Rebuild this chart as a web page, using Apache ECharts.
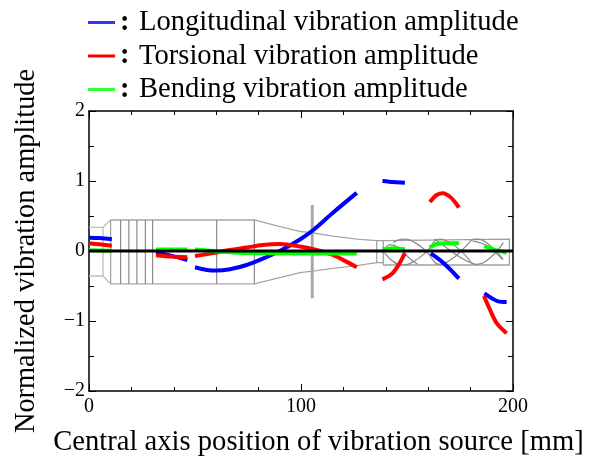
<!DOCTYPE html>
<html><head><meta charset="utf-8">
<style>html,body{margin:0;padding:0;background:#fff}#c{width:595px;height:459px}</style>
<script src="https://cdn.jsdelivr.net/npm/echarts@6/dist/echarts.min.js"></script>
</head><body><div id="c"></div>
<script>
const xTicks = [0, 100, 200];
const yTicks = [-2, -1, 0, 1, 2];
const longitudinal = [
  [[0,0.19],[5,0.185],[10.8,0.167]],
  [[31.6,-0.02],[39,-0.07],[46.4,-0.13]],
  [[50,-0.233],[55.5,-0.27],[60.2,-0.28],[66.5,-0.26],[74.4,-0.2],[82,-0.11],[90,0],[99.5,0.165],[105.8,0.3],[115.2,0.55],[126.3,0.83]],
  [[138.4,1.0],[143.6,0.985],[149,0.975]],
  [[161.2,-0.033],[165.6,-0.13],[170.3,-0.26],[174.5,-0.395]],
  [[186.5,-0.605],[190,-0.675],[193,-0.72],[197,-0.73]]
];
const torsional = [
  [[0,0.11],[5,0.095],[10.8,0.076]],
  [[31.6,-0.06],[39,-0.08],[46.4,-0.09]],
  [[50,-0.07],[58.6,-0.03],[66.5,0.014],[74.4,0.05],[82,0.086],[90,0.1],[99.5,0.065],[107.4,0.014],[115,-0.057],[120,-0.13],[126.3,-0.233]],
  [[138.4,-0.405],[142.8,-0.33],[146,-0.2],[149,-0.03]],
  [[160.8,0.7],[164,0.8],[167,0.825],[170.3,0.775],[172.6,0.7],[174.5,0.62]],
  [[186.3,-0.643],[189.2,-0.843],[192.3,-1.03],[197,-1.176]]
];
const bending = [
  [[0,0.01],[10.8,0.005]],
  [[31.6,0.02],[46.4,0.02]],
  [[50,0.02],[63,-0.01],[74,-0.03],[99.5,-0.034],[126.3,-0.034]],
  [[138.4,0.024],[143.6,0.04],[149,0.024]],
  [[160.8,0.05],[164,0.1],[168.7,0.11],[174.5,0.11]],
  [[186.5,0.07],[190.8,0.024],[197,-0.024]]
];
const zeroLine = [[0,0],[200,0]];
const tailOutline = [[[0,0.338],[6.6,0.338],[10.2,0.443]],[[0,-0.357],[6.6,-0.357],[10.2,-0.47]],[[6.6,0.338],[6.6,-0.357]]];
const bodyOutline = [[[10.2,0.443],[78,0.443],[90,0.347],[99.5,0.28],[107.4,0.25],[115,0.214],[126.3,0.171],[135.7,0.147],[135.7,-0.167],[126.3,-0.21],[115,-0.247],[107.4,-0.28],[99.5,-0.31],[78,-0.47],[10.2,-0.47],[10.2,0.443]]];
const bodyRings = [[[14.9,0.443],[14.9,-0.47]],[[18.8,0.443],[18.8,-0.47]],[[22.6,0.443],[22.6,-0.47]],[[26.6,0.443],[26.6,-0.47]],[[30,0.443],[30,-0.47]],[[60.2,0.443],[60.2,-0.47]],[[78,0.443],[78,-0.47]]];
const flange = [[[105.3,0.657],[105.3,-0.676]]];
const drillOutline = [[[135.7,0.147],[138.8,0.147],[138.8,0.171],[198.3,0.171],[198.3,-0.2],[138.8,-0.2],[138.8,-0.167],[135.7,-0.167]],[[138.8,0.147],[138.8,-0.167]]];
const helix = [
  [[143.5,0.12],[148.2,0.171],[153.7,0.12],[159.2,-0.01],[165.5,-0.19],[171.8,-0.1],[176.5,0.03],[182.8,0.171],[189.1,0.08],[195.4,-0.12]],
  [[143.5,-0.15],[148.2,-0.2],[153.7,-0.14],[159.2,-0.01],[165.5,0.171],[171.8,0.09],[176.5,-0.03],[182.8,-0.19],[189.1,-0.1],[195.4,0.12]],
  [[139.5,0],[142,0.09],[146,0.05],[151,-0.1],[155,-0.19]],
  [[139.5,-0.03],[143,-0.14],[146,-0.2]],
  [[163,0.17],[168,0.06],[173,-0.05],[178,-0.14],[182,-0.19]],
  [[181,0.14],[186,0.1],[191,0],[195,-0.12]]
];
const font = 'Liberation Serif';
const names = ['Longitudinal vibration amplitude','Torsional vibration amplitude','Bending vibration amplitude'];
const colors = ['#0000ff','#ff0000','#00ff00'];
const legendColors = ['#3333ff','#ff0000','#33ff33'];

function outline(list, color, width, smooth, z){
  return list.map(d => ({type:'line',data:d,symbol:'none',silent:true,smooth:smooth,z:z,
    lineStyle:{color:color,width:width},itemStyle:{color:color}}));
}
function curves(list, i){
  return list.map(d => ({type:'line',name:names[i],data:d,symbol:'none',smooth:0.3,z:5+i,silent:true,
    lineStyle:{color:colors[i],width:4,cap:'butt'},itemStyle:{color:legendColors[i]}}));
}
const series = [].concat(
  outline(tailOutline,'#bdbdbd',1.3,false,2),
  outline(bodyOutline,'#a6a6a6',1.3,false,2),
  outline(bodyRings,'#8c8c8c',1.2,false,2),
  outline(flange,'#a8a8a8',3,false,2),
  outline(drillOutline,'#a0a0a0',1.3,false,2),
  outline(helix,'#8a8a8a',1.2,0.5,2),
  curves(longitudinal,0), curves(torsional,1), curves(bending,2),
  [{type:'line',data:zeroLine,symbol:'none',silent:true,z:9,lineStyle:{color:'#000',width:3}}]
);
const chart = echarts.init(document.getElementById('c'),null,{renderer:'canvas'});
const axisBase = {
  axisLine:{show:true,onZero:false,lineStyle:{color:'#000',width:1.5}},
  axisTick:{show:true,inside:true,length:7,lineStyle:{color:'#000',width:1}},
  splitLine:{show:false}
};
const xMinor = {show:true,splitNumber:5,length:4,lineStyle:{color:'#000',width:1}};
const yMinor = {show:true,splitNumber:2,length:5,lineStyle:{color:'#000',width:1}};
chart.setOption({
  animation:false,
  backgroundColor:'#fff',
  grid:{left:89,right:82,top:111,height:280,outerBoundsMode:'none'},
  legend:{
    left:83,top:3,orient:'vertical',itemWidth:27,itemHeight:3,itemGap:4.5,
    icon:'rect',selectedMode:false,data:names,
    formatter:n=>'{c|:}{t|'+n+'}',
    textStyle:{rich:{
      c:{fontFamily:font,fontSize:28.6,fontWeight:'bold',width:19,align:'left',lineHeight:29.5,color:'#000'},
      t:{fontFamily:font,fontSize:28.6,lineHeight:29.5,color:'#000'}
    }}
  },
  xAxis:[
    Object.assign({},axisBase,{type:'value',min:xTicks[0],max:xTicks[2],interval:100,position:'bottom',
      minorTick:xMinor,
      axisLabel:{fontFamily:font,fontSize:20,color:'#000',margin:6,showMinLabel:true,showMaxLabel:true},
      name:'Central axis position of vibration source [mm]',nameLocation:'center',nameGap:37,
      nameTextStyle:{fontFamily:font,fontSize:28.6,color:'#000',padding:[0,0,0,35]}}),
    Object.assign({},axisBase,{type:'value',min:xTicks[0],max:xTicks[2],interval:100,position:'top',
      minorTick:xMinor,axisLabel:{show:false}})
  ],
  yAxis:[
    Object.assign({},axisBase,{type:'value',min:yTicks[0],max:yTicks[4],interval:1,position:'left',
      minorTick:yMinor,
      axisLabel:{fontFamily:font,fontSize:20,color:'#000',margin:4,padding:[2,0,0,0],formatter:v=>String(v).replace('-','\u2212')},
      name:'Normalized vibration amplitude',nameLocation:'center',nameGap:48,
      nameTextStyle:{fontFamily:font,fontSize:28.4,color:'#000'}}),
    Object.assign({},axisBase,{type:'value',min:yTicks[0],max:yTicks[4],interval:1,position:'right',
      minorTick:yMinor,axisLabel:{show:false}})
  ],
  series:series
});
</script></body></html>
